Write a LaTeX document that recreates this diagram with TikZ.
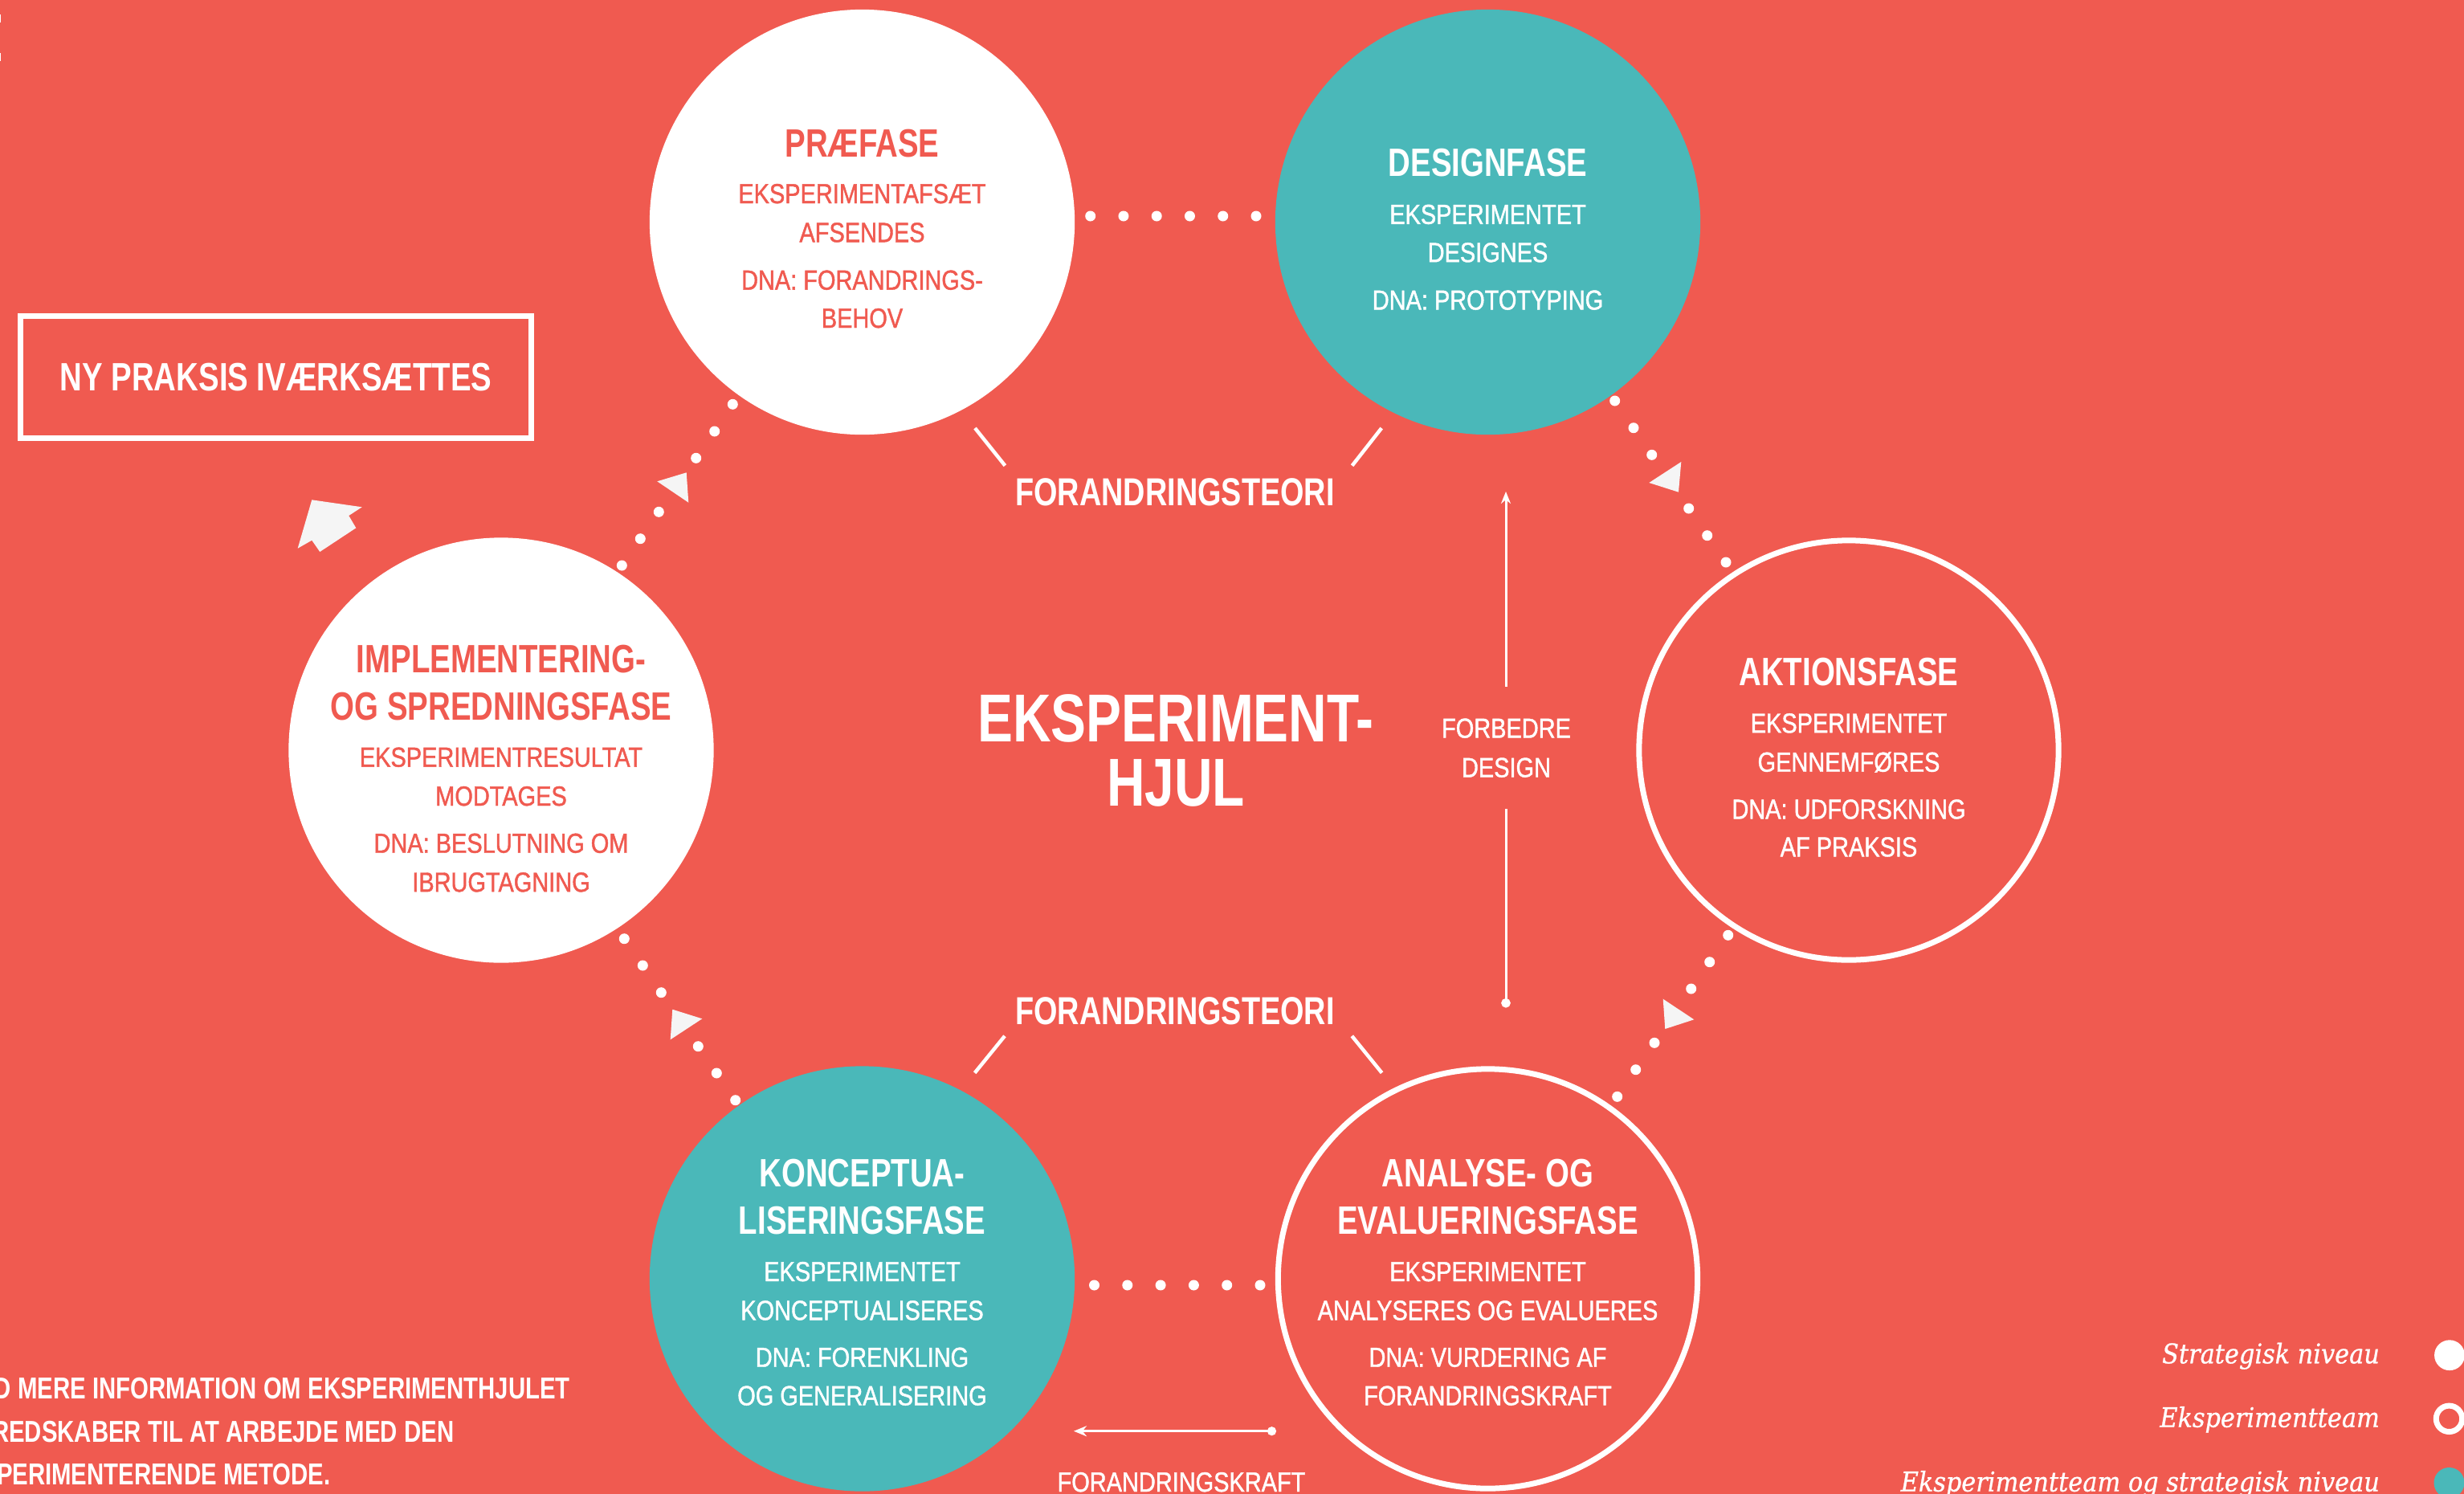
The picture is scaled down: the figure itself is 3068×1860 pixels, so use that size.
\documentclass[tikz,border=0pt]{standalone}
\usepackage{fontspec}
\setmainfont{Liberation Sans}
\newfontfamily\tfam{Liberation Sans}[FakeStretch=0.78]
\newfontfamily\sfam{Liberation Sans}[FakeStretch=0.84,FakeBold=1.2]
\newfontfamily\lfam{DejaVu Serif}[FakeStretch=0.9,FakeBold=0.8]
\usetikzlibrary{arrows.meta,calc}
\definecolor{bg}{RGB}{240,90,80}
\definecolor{tl}{RGB}{74,184,185}
\definecolor{trig}{RGB}{245,245,245}
\begin{document}
\begin{tikzpicture}[x=0.01cm,y=-0.01cm,
  wcirc/.style={circle,fill=white,inner sep=0,minimum size=5.29cm},
  tcirc/.style={circle,fill=tl,inner sep=0,minimum size=5.29cm},
  ocirc/.style={circle,draw=white,line width=0.07cm,inner sep=0,minimum size=5.22cm},
  ttl/.style={anchor=base,inner sep=0,font=\tfam\bfseries\fontsize{14}{16}\selectfont},
  sub/.style={anchor=base,inner sep=0,font=\sfam\fontsize{9.8}{12}\selectfont},
  bl/.style={anchor=base east,inner sep=0,text=white,font=\tfam\bfseries\fontsize{10.7}{12}\selectfont},
  leg/.style={anchor=base east,inner sep=0,text=white,font=\lfam\itshape\fontsize{9.6}{12}\selectfont},
  slash/.style={draw=white,line width=0.045cm},
  trimark/.style={fill=trig},
  thin/.style={draw=white,line width=0.03cm},
]
\useasboundingbox (0,0) rectangle (3068,1860);
\fill[bg] (0,0) rectangle (3068,1860);
% tiny edge marks
\fill[white] (0,18) rectangle (1.5,27.7);
\fill[white] (0,66) rectangle (1.5,76);

% circles
\node[wcirc] (pre) at (1073.5,276.5) {};
\node[tcirc] (des) at (1852.5,276.5) {};
\node[ocirc] (akt) at (2302,934) {};
\node[ocirc] (ana) at (1852.5,1592) {};
\node[tcirc] (kon) at (1073.5,1592) {};
\node[wcirc] (imp) at (624,934) {};

% Praefase
\node[ttl,text=bg] (preT) at (1073.5,195.7) {PRÆFASE};
\node[sub,text=bg] (preA) at (1073.5,253) {EKSPERIMENTAFSÆT};
\node[sub,text=bg] (preB) at (1073.5,301.3) {AFSENDES};
\node[sub,text=bg] (preC) at (1073.5,360.6) {DNA: FORANDRINGS-};
\node[sub,text=bg] (preD) at (1073.5,408) {BEHOV};
% Designfase
\node[ttl,text=white] (desT) at (1852.5,219.5) {DESIGNFASE};
\node[sub,text=white] (desA) at (1852.5,278.8) {EKSPERIMENTET};
\node[sub,text=white] (desB) at (1852.5,326.2) {DESIGNES};
\node[sub,text=white] (desC) at (1852.5,385.5) {DNA: PROTOTYPING};
% Aktionsfase
\node[ttl,text=white] (aktT) at (2302,853.6) {AKTIONSFASE};
\node[sub,text=white] (aktA) at (2302,912.2) {EKSPERIMENTET};
\node[sub,text=white] (aktB) at (2302,960.7) {GENNEMFØRES};
\node[sub,text=white] (aktC) at (2302,1019.4) {DNA: UDFORSKNING};
\node[sub,text=white] (aktD) at (2302,1066.3) {AF PRAKSIS};
% Implementering
\node[ttl,text=bg] (impT) at (624,837.2) {IMPLEMENTERING-};
\node[ttl,text=bg] (impU) at (624,896) {OG SPREDNINGSFASE};
\node[sub,text=bg] (impA) at (624,954.6) {EKSPERIMENTRESULTAT};
\node[sub,text=bg] (impB) at (624,1003) {MODTAGES};
\node[sub,text=bg] (impC) at (624,1061.7) {DNA: BESLUTNING OM};
\node[sub,text=bg] (impD) at (624,1110.2) {IBRUGTAGNING};
% Konceptualisering
\node[ttl,text=white] (konT) at (1073.5,1477.7) {KONCEPTUA-};
\node[ttl,text=white] (konU) at (1073.5,1536.5) {LISERINGSFASE};
\node[sub,text=white] (konA) at (1073.5,1595) {EKSPERIMENTET};
\node[sub,text=white] (konB) at (1073.5,1643.3) {KONCEPTUALISERES};
\node[sub,text=white] (konC) at (1073.5,1701.7) {DNA: FORENKLING};
\node[sub,text=white] (konD) at (1073.5,1749.5) {OG GENERALISERING};
% Analyse
\node[ttl,text=white] (anaT) at (1852.5,1477.7) {ANALYSE- OG};
\node[ttl,text=white] (anaU) at (1852.5,1536.5) {EVALUERINGSFASE};
\node[sub,text=white] (anaA) at (1852.5,1595) {EKSPERIMENTET};
\node[sub,text=white] (anaB) at (1852.5,1643.3) {ANALYSERES OG EVALUERES};
\node[sub,text=white] (anaC) at (1852.5,1701.7) {DNA: VURDERING AF};
\node[sub,text=white] (anaD) at (1852.5,1749.5) {FORANDRINGSKRAFT};

% centre
\node[anchor=base,inner sep=0,text=white,font=\tfam\bfseries\fontsize{24}{26}\selectfont] (hjA) at (1464,923.5) {EKSPERIMENT-};
\node[anchor=base,inner sep=0,text=white,font=\tfam\bfseries\fontsize{24}{26}\selectfont] (hjB) at (1464,1003) {HJUL};

\node[ttl,text=white,font=\tfam\bfseries\fontsize{13.8}{16}\selectfont] (ftTop) at (1463,629) {FORANDRINGSTEORI};
\node[ttl,text=white,font=\tfam\bfseries\fontsize{13.8}{16}\selectfont] (ftBot) at (1463,1275.6) {FORANDRINGSTEORI};
\draw[slash] (1214,533) -- (1251.4,579.7);
\draw[slash] (1720.2,533) -- (1683.6,579.7);
\draw[slash] (1251,1289.8) -- (1213.7,1335.7);
\draw[slash] (1683.3,1289.8) -- (1720.6,1335.7);

% forbedre design
\node[sub,text=white] (fbA) at (1875.5,918.5) {FORBEDRE};
\node[sub,text=white] (fbB) at (1875.5,967.5) {DESIGN};
\coordinate (fbtop) at (1875,612);
\coordinate (fbup) at (1875,854.6);
\coordinate (fblo) at (1875,1007);
\coordinate (fbbot) at (1875,1254.5);
\draw[thin,-{Stealth[length=0.15cm,width=0.12cm]}] (fbup) -- (fbtop);
\draw[thin,-{Circle[length=0.115cm]}] (fblo) -- (fbbot);

% forandringskraft
\coordinate (fkR) at (1589,1781.7);
\coordinate (fkL) at (1337,1781.7);
\draw[thin,{Circle[length=0.11cm]}-{Stealth[length=0.16cm,width=0.13cm]}] (fkR) -- (fkL);
\node[sub,text=white] (fk) at (1471,1857) {FORANDRINGSKRAFT};

% dotted connectors
\foreach \i in {0,...,5} \fill[white] (1357.7+41.26*\i,269) circle[radius=0.065cm];
\foreach \i in {0,...,5} \fill[white] (1362.5+41.3*\i,1600) circle[radius=0.065cm];
\foreach \p in {(2010.7,499),(2034,532.7),(2056.7,566.3),(2102.7,633),(2125.7,666.7),(2149,700),
  (2151.7,1164.3),(2128.7,1197.7),(2105.7,1231),(2060,1298.3),(2036.7,1331.7),(2013.7,1365.3),
  (912.3,503.3),(889.7,537),(866.7,570.3),(820.3,637.3),(797.3,670.7),(774.3,704),
  (777.3,1168.7),(800.3,1202),(823.3,1235.7),(869.3,1302.7),(892.3,1336),(915.7,1369.7)}
  \fill[white] \p circle[radius=0.065cm];
\fill[trimark] (2093.3,575) -- (2053.3,601) -- (2090,612.7) -- cycle;
\fill[trimark] (2070.7,1243.7) -- (2109.3,1269.3) -- (2073.3,1281) -- cycle;
\fill[trimark] (818.3,599.3) -- (854.7,588.3) -- (857.3,625.7) -- cycle;
\fill[trimark] (837.3,1256.7) -- (874.3,1268.3) -- (834.7,1294.3) -- cycle;

% new practice box and arrow
\node[draw=white,line width=0.07cm,minimum width=6.36cm,minimum height=1.52cm,inner sep=0,
  text=white,font=\tfam\bfseries\fontsize{14}{16}\selectfont] (ny) at (343.5,469.5) {NY PRAKSIS IVÆRKSÆTTES};
\fill[trimark] (388.3,622.3) -- (450.7,631.3) -- (434.3,642) -- (443.3,657.3) -- (398.3,687) -- (388.3,672.7) -- (370.7,682.7) -- cycle;

% bottom-left text
\node[bl] (infoA) at (710.4,1741.7) {D MERE INFORMATION OM EKSPERIMENTHJULET};
\node[bl] (infoB) at (566,1795) {REDSKABER TIL AT ARBEJDE MED DEN};
\node[bl] (infoC) at (412,1848) {PERIMENTERENDE METODE.};

% legend
\node[leg] (lgA) at (2963.6,1697.3) {Strategisk niveau};
\node[leg] (lgB) at (2963.6,1776.7) {Eksperimentteam};
\node[leg] (lgC) at (2963.6,1856.7) {Eksperimentteam og strategisk niveau};
\fill[white] (3050,1687.2) circle[radius=0.189cm];
\draw[white,line width=0.07cm] (3049.5,1766.3) circle[radius=0.162cm];
\fill[tl] (3049.5,1846) circle[radius=0.19cm];
\end{tikzpicture}
\end{document}
